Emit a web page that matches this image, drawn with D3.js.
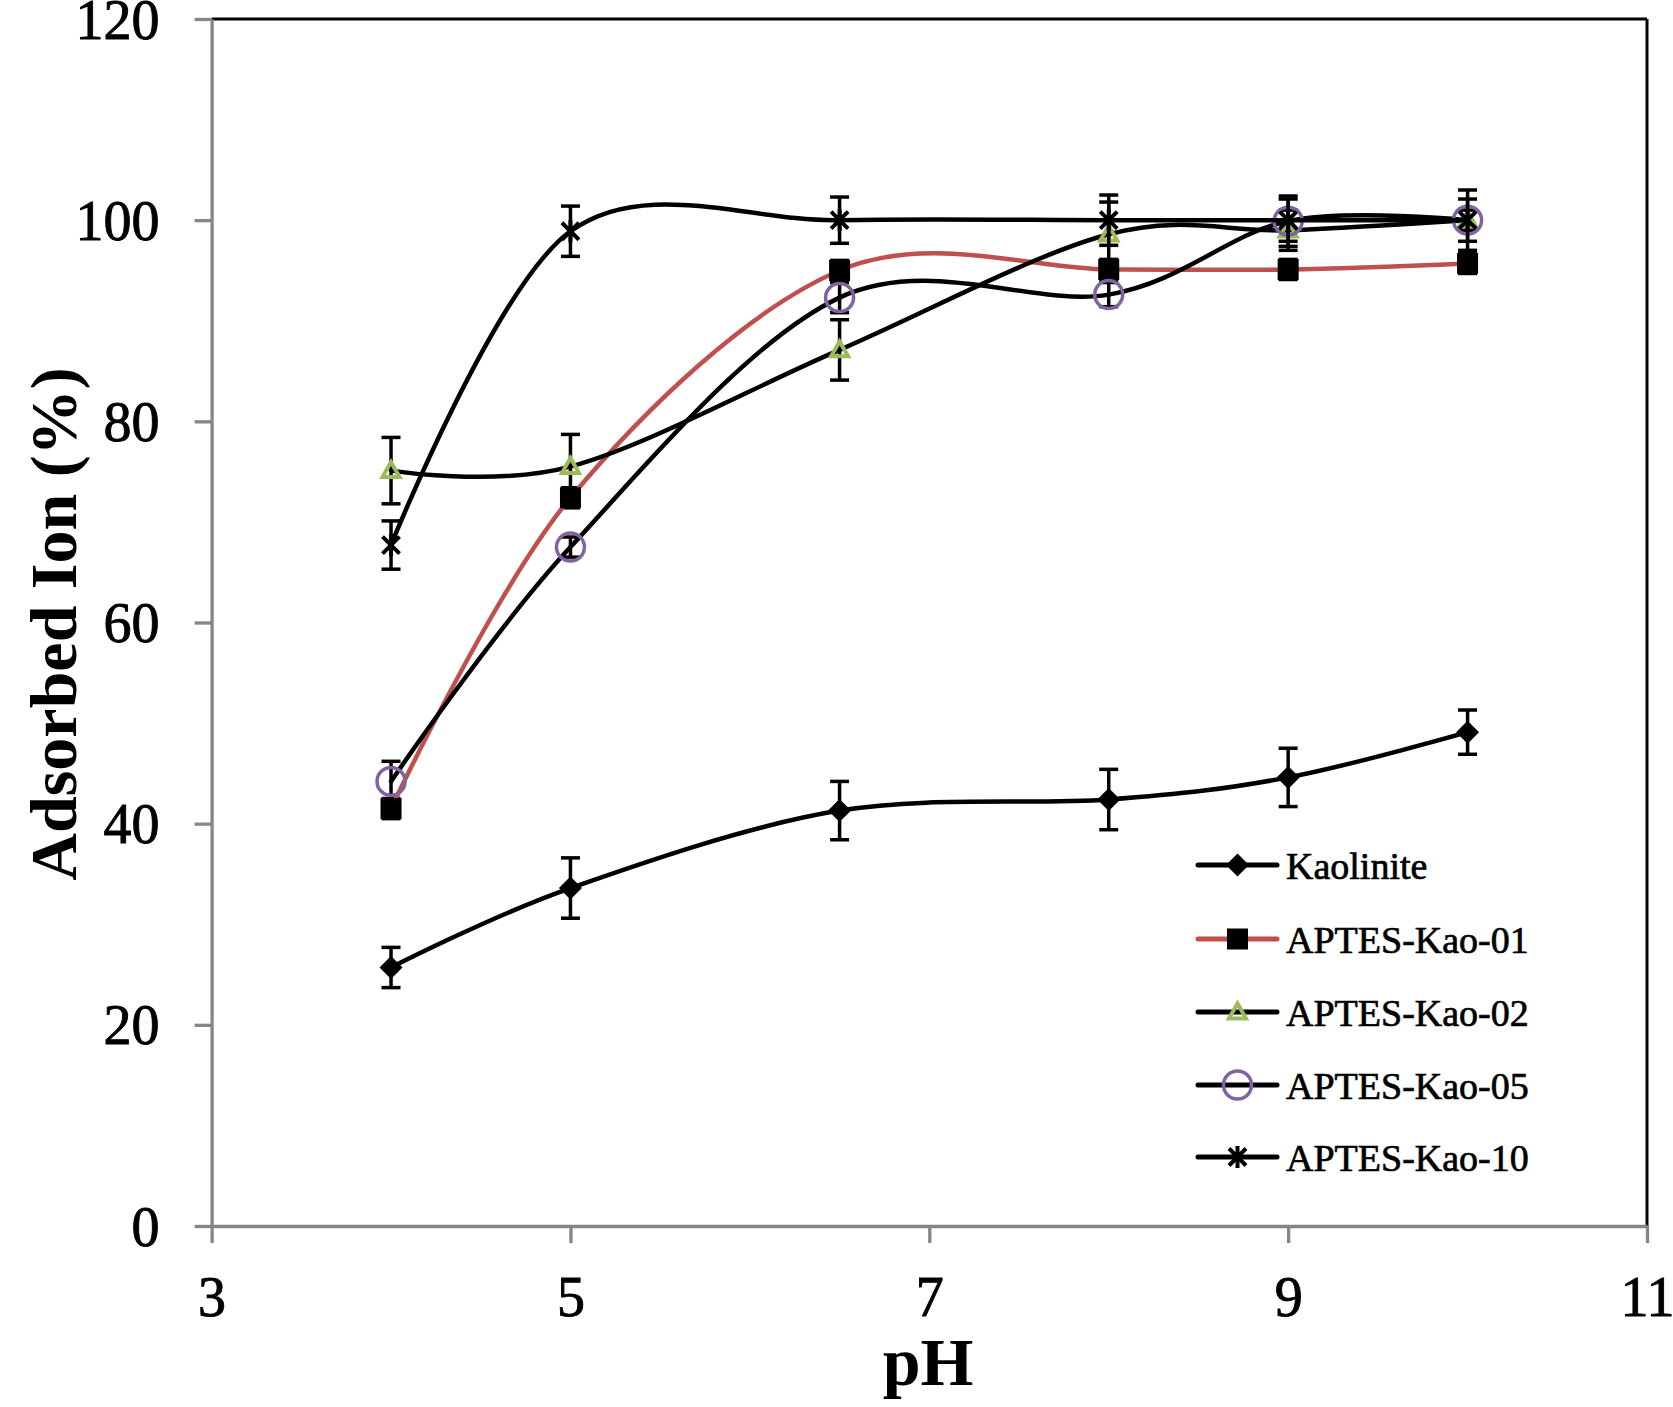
<!DOCTYPE html>
<html>
<head>
<meta charset="utf-8">
<script src="https://cdn.jsdelivr.net/npm/d3@7"></script>
<style>
  html, body { margin: 0; padding: 0; background: #fff; }
  svg { display: block; }
</style>
</head>
<body>
<svg id="chart" width="1673" height="1407"></svg>
<script>
// ---- data ----
const phValues = [4, 5, 6.5, 8, 9, 10];
const seriesNames = ["Kaolinite", "APTES-Kao-01", "APTES-Kao-02", "APTES-Kao-05", "APTES-Kao-10"];
const kaolinite = [25.7, 33.6, 41.3, 42.4, 44.6, 49.1];
const kaoliniteErr = [2.0, 3.0, 2.9, 3.0, 2.9, 2.2];
const aptes01 = [41.5, 72.4, 95.0, 95.1, 95.1, 95.7];
const aptes01Err = [1.0, 1.0, 1.0, 1.0, 1.0, 1.0];
const aptes02 = [75.1, 75.5, 87.1, 98.6, 99.0, 100.0];
const aptes02Err = [3.3, 3.2, 3.0, 3.2, 2.0, 1.0];
const aptes05 = [44.2, 67.5, 92.3, 92.6, 99.9, 100.0];
const aptes05Err = [2.0, 1.0, 1.5, 1.2, 2.5, 2.1];
const aptes10 = [67.7, 98.9, 100.0, 100.0, 100.0, 100.0];
const aptes10Err = [2.4, 2.5, 2.3, 2.5, 2.1, 3.0];
const xTicks = [3, 5, 7, 9, 11];
const yTicks = [0, 20, 40, 60, 80, 100, 120];

const seriesValues = [kaolinite, aptes01, aptes02, aptes05, aptes10];
const seriesErrors = [kaoliniteErr, aptes01Err, aptes02Err, aptes05Err, aptes10Err];
const lineColors = ["#000000", "#C0504D", "#000000", "#000000", "#000000"];
const markerTypes = ["diamond", "square", "triangle", "circle", "asterisk"];

// ---- layout ----
const svg = d3.select("#chart");
const x = d3.scaleLinear().domain([3, 11]).range([211.6, 1647]);
const y = d3.scaleLinear().domain([0, 120]).range([1226, 19]);
const gray = "#868686";
const serif = "'Liberation Serif', 'Times New Roman', serif";

// frame (top & right black)
svg.append("line").attr("x1", x(3)).attr("x2", x(11)).attr("y1", y(120)).attr("y2", y(120))
  .attr("stroke", "#000").attr("stroke-width", 3);
svg.append("line").attr("x1", x(11)).attr("x2", x(11)).attr("y1", y(120)).attr("y2", y(0))
  .attr("stroke", "#000").attr("stroke-width", 3);

// axes
const yAxis = d3.axisLeft(y).tickValues(yTicks).tickSize(17).tickSizeOuter(0).tickPadding(35)
  .tickFormat(d3.format("d"));
const gy = svg.append("g").attr("transform", `translate(${x(3)},0)`).call(yAxis);
const xAxis = d3.axisBottom(x).tickValues(xTicks).tickSize(17).tickSizeOuter(0).tickPadding(33)
  .tickFormat(d3.format("d"));
const gx = svg.append("g").attr("transform", `translate(0,${y(0)})`).call(xAxis);
[gx, gy].forEach(g => {
  g.select(".domain").attr("stroke", gray).attr("stroke-width", 3.3);
  g.selectAll(".tick line").attr("stroke", gray).attr("stroke-width", 3.3);
  g.selectAll(".tick text").attr("fill", "#000").attr("stroke", "#000").attr("stroke-width", 0.9)
    .style("font-family", serif).style("font-size", "56px");
});
gy.selectAll(".tick text").attr("dy", "0.34em");

// axis titles
svg.append("text").attr("x", 928).attr("y", 1385).attr("text-anchor", "middle")
  .style("font-family", serif).style("font-weight", "bold").style("font-size", "68px").text("pH");
svg.append("text").attr("transform", "translate(76,624) rotate(-90)").attr("text-anchor", "middle")
  .style("font-family", serif).style("font-weight", "bold").style("font-size", "66px").text("Adsorbed Ion (%)");

// marker drawing
function drawMarker(g, type, cx, cy) {
  if (type === "diamond") {
    const h = 11.5;
    g.append("path").attr("d", `M${cx},${cy - h}L${cx + h},${cy}L${cx},${cy + h}L${cx - h},${cy}Z`).attr("fill", "#000");
  } else if (type === "square") {
    g.append("rect").attr("x", cx - 10.5).attr("y", cy - 10.5).attr("width", 21).attr("height", 21).attr("fill", "#000");
  } else if (type === "triangle") {
    const s = 8.5;
    g.append("path").attr("d", `M${cx},${cy - s}L${cx + s},${cy + s * 0.75}L${cx - s},${cy + s * 0.75}Z`)
      .attr("fill", "none").attr("stroke", "#9BBB59").attr("stroke-width", 4);
  } else if (type === "circle") {
    g.append("circle").attr("cx", cx).attr("cy", cy).attr("r", 14)
      .attr("fill", "none").attr("stroke", "#8064A2").attr("stroke-width", 3.5);
  } else if (type === "asterisk") {
    const a = 11, b = 8.5;
    g.append("path").attr("d",
      `M${cx},${cy - a}L${cx},${cy + a}M${cx - b},${cy - b}L${cx + b},${cy + b}M${cx - b},${cy + b}L${cx + b},${cy - b}`)
      .attr("stroke", "#000").attr("stroke-width", 4).attr("fill", "none");
  }
}

const line = d3.line().x(d => x(d.x)).y(d => y(d.y)).curve(d3.curveCardinal.tension(0));

seriesValues.forEach((vals, si) => {
  const g = svg.append("g");
  const pts = vals.map((v, i) => ({ x: phValues[i], y: v, e: seriesErrors[si][i] }));
  // error bars
  pts.forEach(p => {
    const cx = x(p.x);
    g.append("line").attr("x1", cx).attr("x2", cx).attr("y1", y(p.y - p.e)).attr("y2", y(p.y + p.e))
      .attr("stroke", "#000").attr("stroke-width", 3.5);
    [p.y - p.e, p.y + p.e].forEach(v => {
      g.append("line").attr("x1", cx - 9.5).attr("x2", cx + 9.5).attr("y1", y(v)).attr("y2", y(v))
        .attr("stroke", "#000").attr("stroke-width", 3.5);
    });
  });
  g.append("path").datum(pts).attr("d", line).attr("fill", "none")
    .attr("stroke", lineColors[si]).attr("stroke-width", 4.5).attr("stroke-linecap", "round");
  pts.forEach(p => drawMarker(g, markerTypes[si], x(p.x), y(p.y)));
});

// legend
const legendY = [865, 939, 1012, 1085, 1157];
seriesNames.forEach((name, i) => {
  const g = svg.append("g");
  const ly = legendY[i];
  g.append("line").attr("x1", 1198).attr("x2", 1277).attr("y1", ly).attr("y2", ly)
    .attr("stroke", lineColors[i]).attr("stroke-width", 5).attr("stroke-linecap", "round");
  drawMarker(g, markerTypes[i], 1237.5, ly);
  g.append("text").attr("x", 1286).attr("y", ly + 13.5)
    .attr("stroke", "#000").attr("stroke-width", 0.7)
    .style("font-family", serif).style("font-size", "38px").text(name);
});
</script>
</body>
</html>
